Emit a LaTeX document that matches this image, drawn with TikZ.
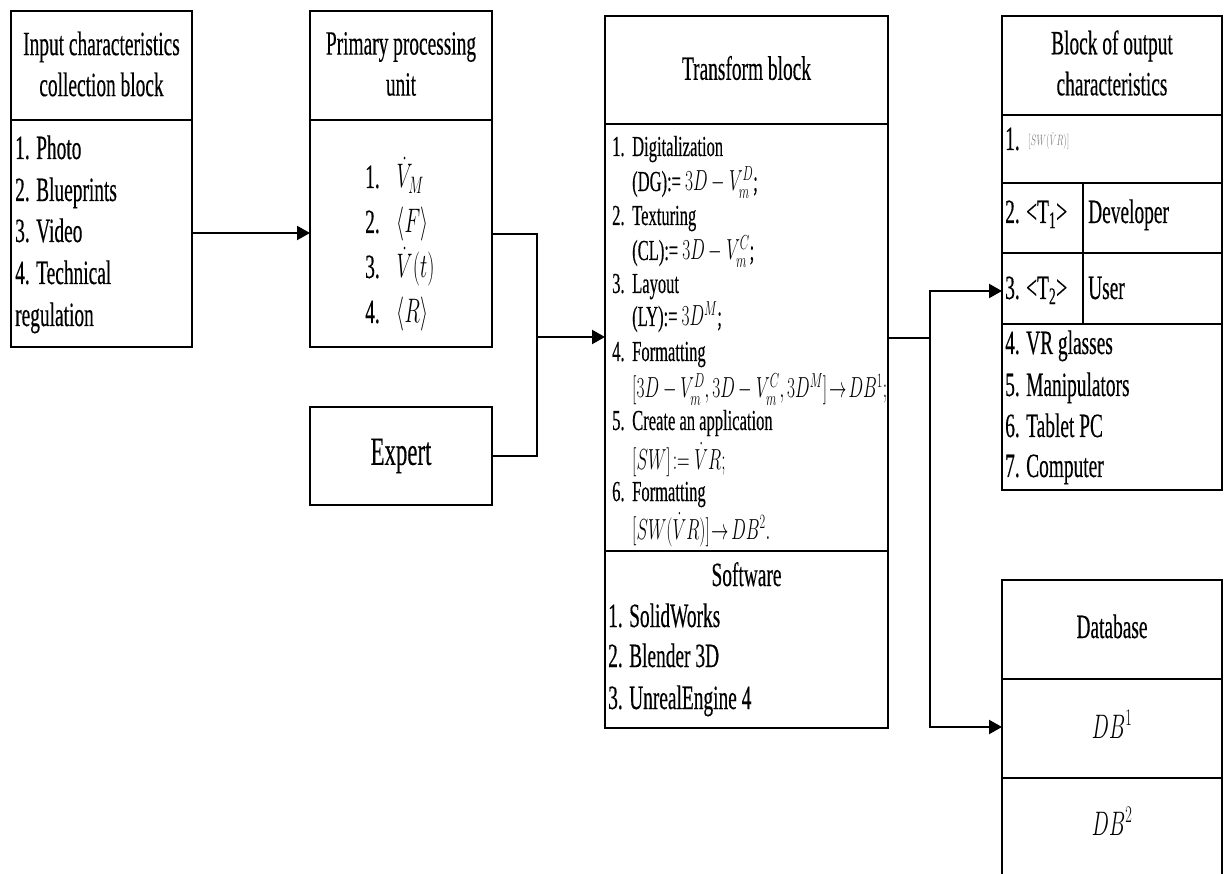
\RequirePackage{fix-cm}
\documentclass[tikz,border=0pt]{standalone}
\usepackage{fontspec}
\setmainfont{Liberation Serif}[FakeStretch=0.57, FakeBold=0.3]
\usepackage{graphicx}
\usetikzlibrary{arrows.meta}
% condensed math, matching the narrow serif text
\newcommand{\mq}[1]{\scalebox{0.6}[1]{$#1$}}

\tikzset{
  box/.style={draw, line width=1.6pt, rectangle, inner sep=0pt, outer sep=0pt},
  rule/.style={line width=1.6pt},
  link/.style={line width=2.2pt},
  arr/.style={link, -{Triangle[length=13pt,width=14pt]}},
  hdr/.style={inner sep=0pt, align=center, font=\fontsize{34}{41}\selectfont},
  txt/.style={inner sep=0pt, text height=23pt, text depth=7pt, font=\fontsize{34}{41}\selectfont},
  lft/.style={txt, anchor=west},
  sml/.style={inner sep=0pt, anchor=west, text height=20pt, text depth=6pt, font=\fontsize{29}{34}\selectfont},
}

\begin{document}
\begin{tikzpicture}[x=1pt, y=-1pt]
\clip (0,0) rectangle (1224,874);
\fill[white] (0,0) rectangle (1224,874);

% ---------- blocks ----------
\node[box, minimum width=181pt, minimum height=336pt] (inp)   at (101.5,179) {};
\node[box, minimum width=182pt, minimum height=336pt] (prim)  at (401,179)   {};
\node[box, minimum width=182pt, minimum height=98pt]  (exp)   at (401,456)   {};
\node[box, minimum width=283pt, minimum height=712pt] (trans) at (746.5,372) {};
\node[box, minimum width=220pt, minimum height=474pt] (out)   at (1112,253)  {};
\node[box, minimum width=220pt, minimum height=320pt] (db)    at (1112,740)  {};

% ---------- inner rules ----------
\draw[rule] (inp.west |- 0,120) -- (inp.east |- 0,120);
\draw[rule] (prim.west |- 0,120) -- (prim.east |- 0,120);
\draw[rule] (trans.west |- 0,124) -- (trans.east |- 0,124);
\draw[rule] (trans.west |- 0,551) -- (trans.east |- 0,551);
\draw[rule] (out.west |- 0,115) -- (out.east |- 0,115);
\draw[rule] (out.west |- 0,183) -- (out.east |- 0,183);
\draw[rule] (out.west |- 0,253) -- (out.east |- 0,253);
\draw[rule] (out.west |- 0,324) -- (out.east |- 0,324);
\draw[rule] (1083,183) -- (1083,324);
\draw[rule] (db.west |- 0,679) -- (db.east |- 0,679);
\draw[rule] (db.west |- 0,778) -- (db.east |- 0,778);

% ---------- input block ----------
\node[hdr] (inph) at (101.5,64) {Input characteristics\\collection block};
\node[lft] (in1) at (15,151) {1. Photo};
\node[lft] (in2) at (15,193) {2. Blueprints};
\node[lft] (in3) at (15,234) {3. Video};
\node[lft] (in4) at (15,276) {4. Technical};
\node[lft] (in5) at (15,318) {regulation};

% ---------- primary processing unit ----------
\node[hdr] (primh) at (401,64) {Primary processing\\unit};
\node[lft] (p1) at (365,180) {1.\hspace{17pt}\mq{\dot{V}_M}};
\node[lft] (p2) at (365,225) {2.\hspace{17pt}\mq{\langle F\rangle}};
\node[lft] (p3) at (365,270) {3.\hspace{17pt}\mq{\dot{V}(t)}};
\node[lft] (p4) at (365,315) {4.\hspace{17pt}\mq{\langle R\rangle}};

% ---------- expert ----------
\node[inner sep=0pt, font=\fontsize{40}{48}\selectfont] (expt) at (401,456) {Expert};

% ---------- transform block ----------
\node[hdr] (transh) at (746.5,68) {Transform block};
\node[sml] (t1n) at (612,149) {1.};
\node[sml] (t1a) at (632,149) {Digitalization};
\node[sml] (t1b) at (632,184) {(DG):= \mq{3D-V_m^D};};
\node[sml] (t2n) at (612,218) {2.};
\node[sml] (t2a) at (632,218) {Texturing};
\node[sml] (t2b) at (632,253) {(CL):= \mq{3D-V_m^C};};
\node[sml] (t3n) at (612,286) {3.};
\node[sml] (t3a) at (632,286) {Layout};
\node[sml] (t3b) at (632,319) {(LY):= \mq{3D^M};};
\node[sml] (t4n) at (612,354) {4.};
\node[sml] (t4a) at (632,354) {Formatting};
\node[sml] (t4b) at (632,391) {\mq{\bigl[3D-V_m^D,3D-V_m^C,3D^M\bigr]\!\to\! DB^1;}};
\node[sml] (t5n) at (612,423) {5.};
\node[sml] (t5a) at (632,423) {Create an application};
\node[sml] (t5b) at (632,462) {\mq{[SW]\!:=\dot{V}R;}};
\node[sml] (t6n) at (612,494) {6.};
\node[sml] (t6a) at (632,494) {Formatting};
\node[sml] (t6b) at (632,532) {\mq{\bigl[SW(\dot{V}R)\bigr]\!\to\! DB^2.}};

\node[txt] (swh) at (746.5,578) {Software};
\node[lft] (sw1) at (608,619) {1. SolidWorks};
\node[lft] (sw2) at (608,659) {2. Blender 3D};
\node[lft] (sw3) at (608,701) {3. UnrealEngine 4};

% ---------- output characteristics ----------
\node[hdr] (outh) at (1112,63) {Block of output\\characteristics};
\node[lft] (o1) at (1005,142) {1.};
\node[inner sep=0pt, anchor=west, text=gray, font=\fontsize{15}{18}\selectfont] (o1m) at (1028,141) {\mq{[SW(\dot{V}R)]}};
\node[lft] (o2) at (1005,215) {2. <T\textsubscript{1}>};
\node[lft] (o2r) at (1088,215) {Developer};
\node[lft] (o3) at (1005,291) {3. <T\textsubscript{2}>};
\node[lft] (o3r) at (1088,291) {User};
\node[lft] (o4) at (1005,346) {4. VR glasses};
\node[lft] (o5) at (1005,388) {5. Manipulators};
\node[lft] (o6) at (1005,429) {6. Tablet PC};
\node[lft] (o7) at (1005,469) {7. Computer};

% ---------- database ----------
\node[txt] (dbh) at (1112,630) {Database};
\node[txt] (db1) at (1112,730) {\mq{DB^1}};
\node[txt] (db2) at (1112,827) {\mq{DB^2}};

% ---------- connectors ----------
\coordinate (j1) at (537,337);
\coordinate (j2) at (930,338);
\draw[arr] (inp.east |- 0,233) -- (prim.west |- 0,233);
\draw[link] (prim.east |- 0,234) -| (j1);
\draw[link] (exp.east) -| (j1);
\draw[arr] (j1) -- (trans.west |- j1);
\draw[link] (trans.east |- j2) -- (j2);
\draw[arr] (j2) |- (out.west |- 0,291);
\draw[arr] (j2) |- (db.west |- 0,727);
\end{tikzpicture}
\end{document}
